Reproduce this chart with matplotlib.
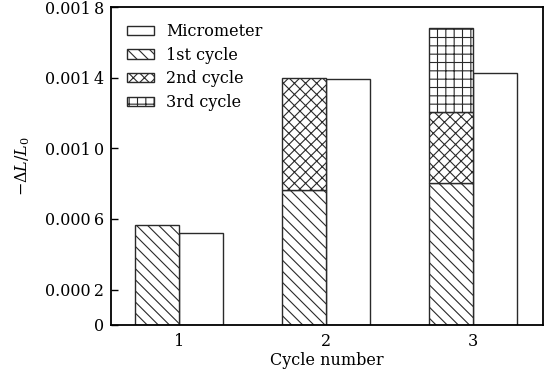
import numpy as np
import matplotlib.pyplot as plt
from matplotlib.ticker import FuncFormatter

plt.rcParams['font.family'] = 'DejaVu Serif'
plt.rcParams['mathtext.fontset'] = 'dejavuserif'
plt.rcParams['hatch.linewidth'] = 0.8

cycles = [1, 2, 3]
first_cycle = [0.000567, 0.000765, 0.000805]
second_cycle = [0.0, 0.000635, 0.000402]
third_cycle = [0.0, 0.0, 0.000477]
micrometer = [0.000522, 0.001395, 0.001429]

x = np.array(cycles, dtype=float)
w = 0.3
ec = '#2a2a2a'

fig = plt.figure(figsize=(5.47, 3.79), dpi=100)
ax = fig.add_axes([0.203, 0.1425, 0.79, 0.839])

b1 = np.array(first_cycle)
b2 = np.array(second_cycle)
b3 = np.array(third_cycle)

ax.bar(x + w / 2, micrometer, w, color='white', edgecolor=ec, lw=1, label='Micrometer')
ax.bar(x - w / 2, b1, w, color='white', edgecolor=ec, lw=1, hatch='\\\\\\', label='1st cycle')
m2 = b2 > 0
ax.bar((x - w / 2)[m2], b2[m2], w, bottom=b1[m2], color='white', edgecolor=ec, lw=1,
       hatch='xxx', label='2nd cycle')
m3 = b3 > 0
ax.bar((x - w / 2)[m3], b3[m3], w, bottom=(b1 + b2)[m3], color='white', edgecolor=ec, lw=1,
       hatch='++', label='3rd cycle')

ax.set_xlim(0.537, 3.476)
ax.set_ylim(0, 0.0018)
ax.set_xticks(cycles)
ax.set_yticks([0, 0.0002, 0.0006, 0.0010, 0.0014, 0.0018])


def fmt(v, pos):
    if v == 0:
        return '0'
    s = '%.4f' % v
    return s[:-1] + '\u2009' + s[-1]


ax.yaxis.set_major_formatter(FuncFormatter(fmt))
ax.tick_params(axis='y', direction='in', length=5, width=1, labelsize=11.5, pad=5)
ax.tick_params(axis='x', direction='in', length=0, labelsize=11.5, pad=6)
for s in ax.spines.values():
    s.set_linewidth(1.3)

ax.set_xlabel('Cycle number', fontsize=11.5, labelpad=1)
ax.set_ylabel(r'$-\Delta L/L_0$', fontsize=11.5, labelpad=9)

ax.legend(loc='upper left', frameon=False, fontsize=11.5, handlelength=1.7,
          handleheight=0.5, labelspacing=0.42, handletextpad=0.8,
          borderaxespad=0.3, bbox_to_anchor=(0.01, 0.985))

fig.savefig('out.png', dpi=100)
